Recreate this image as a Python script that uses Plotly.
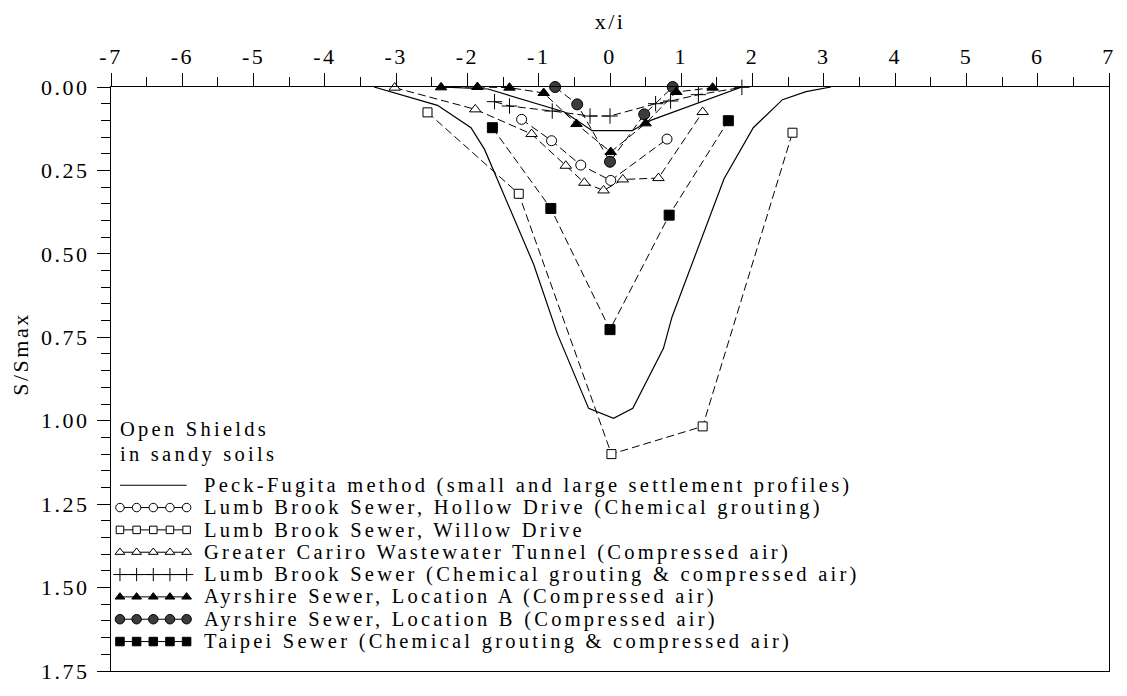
import plotly.graph_objects as go

# ---------------- data (x/i , S/Smax) ----------------
# Peck-Fujita method: small and large settlement profiles
peck_small_x = [-2.39, -1.71, -0.64, -0.25, 0.31, 0.57, 1.85]
peck_small_y = [0.0, 0.006, 0.075, 0.131, 0.131, 0.100, 0.0]

peck_large_x = [-3.31, -2.42, -1.95, -1.76, -1.07, -0.74, -0.30, 0.05, 0.32,
                0.75, 0.87, 1.60, 2.01, 2.42, 2.75, 3.10]
peck_large_y = [0.0, 0.055, 0.122, 0.187, 0.532, 0.739, 0.963, 0.993, 0.963,
                0.783, 0.689, 0.275, 0.122, 0.038, 0.014, 0.0]

# Lumb Brook Sewer, Hollow Drive (chemical grouting)
hollow_x = [-1.24, -0.82, -0.41, 0.01, 0.80]
hollow_y = [0.097, 0.161, 0.234, 0.280, 0.156]

# Lumb Brook Sewer, Willow Drive
willow_x = [-2.56, -1.28, 0.02, 1.30, 2.56]
willow_y = [0.076, 0.320, 1.100, 1.017, 0.137]

# Greater Cairo Wastewater Tunnel (compressed air)
cairo_x = [-3.02, -1.89, -1.10, -0.62, -0.36, -0.09, 0.18, 0.68, 1.30]
cairo_y = [0.002, 0.067, 0.141, 0.236, 0.287, 0.310, 0.277, 0.273, 0.075]

# Lumb Brook Sewer (chemical grouting & compressed air)
lumb_x = [-1.62, -1.41, -0.81, -0.28, 0.00, 0.64, 0.85, 1.24, 1.85]
lumb_y = [0.044, 0.057, 0.072, 0.087, 0.087, 0.050, 0.042, 0.023, 0.001]

# Ayrshire Sewer, Location A (compressed air)
ayr_a_x = [-2.37, -1.86, -1.41, -0.93, -0.47, 0.01, 0.50, 0.93, 1.44]
ayr_a_y = [0.001, 0.0, 0.002, 0.018, 0.111, 0.195, 0.109, 0.015, 0.002]

# Ayrshire Sewer, Location B (compressed air)
ayr_b_x = [-0.77, -0.46, 0.00, 0.48, 0.88]
ayr_b_y = [0.0, 0.052, 0.224, 0.082, 0.0]

# Taipei Sewer (chemical grouting & compressed air)
taipei_x = [-1.65, -0.83, 0.00, 0.83, 1.66]
taipei_y = [0.122, 0.364, 0.727, 0.384, 0.101]

x_ticks = list(range(-7, 8))
y_ticks = [0.0, 0.25, 0.5, 0.75, 1.0, 1.25, 1.5, 1.75]

legend_labels = [
    "Peck-Fugita method (small and large settlement profiles)",
    "Lumb Brook Sewer, Hollow Drive (Chemical grouting)",
    "Lumb Brook Sewer, Willow Drive",
    "Greater Cariro Wastewater Tunnel (Compressed air)",
    "Lumb Brook Sewer (Chemical grouting & compressed air)",
    "Ayrshire Sewer, Location A (Compressed air)",
    "Ayrshire Sewer, Location B (Compressed air)",
    "Taipei Sewer (Chemical grouting & compressed air)",
]
note_lines = ["Open Shields", "in sandy soils"]

# ---------------- layout constants ----------------
W, H = 1127, 696
ML, MR, MT, MB = 111, 13, 87, 18
PW, PH = W - ML - MR, H - MT - MB
FONT = dict(family="Liberation Serif", size=22, color="black")
KEY_FONT = dict(family="Liberation Serif", size=20.5, color="black")
DASH = "8px,4px"

# marker styles: (symbol, size, fill)
styles = {
    "hollow": ("circle", 10, "white"),
    "willow": ("square", 9, "white"),
    "cairo": ("triangle-up", 10, "white"),
    "lumb": ("cross-thin", 11, "black"),
    "ayr_a": ("triangle-up", 10, "black"),
    "ayr_b": ("circle", 11, "#3c3c3c"),
    "taipei": ("square", 10, "black"),
}

fig = go.Figure()

# Peck-Fujita profiles (solid)
for px, py in [(peck_small_x, peck_small_y), (peck_large_x, peck_large_y)]:
    fig.add_trace(go.Scatter(x=px, y=py, mode="lines",
                             line=dict(color="black", width=1.2),
                             showlegend=False, hoverinfo="skip"))


def add_series(x, y, key):
    sym, size, fill = styles[key]
    fig.add_trace(go.Scatter(
        x=x, y=y, mode="lines+markers",
        line=dict(color="black", width=1, dash=DASH),
        marker=dict(symbol=sym, size=size, color=fill,
                    line=dict(color="black", width=1)),
        cliponaxis=False, showlegend=False))


add_series(hollow_x, hollow_y, "hollow")
add_series(willow_x, willow_y, "willow")
add_series(cairo_x, cairo_y, "cairo")
add_series(lumb_x, lumb_y, "lumb")
add_series(ayr_b_x, ayr_b_y, "ayr_b")
add_series(ayr_a_x, ayr_a_y, "ayr_a")
add_series(taipei_x, taipei_y, "taipei")

# ---------------- in-plot legend (drawn on a pixel overlay axis) ----------------
KEY_X0, KEY_X1 = 120, 187
TEXT_X = 202
ROW0, ROW_STEP = 490, 22.6
key_xs = [KEY_X0 + i * (KEY_X1 - KEY_X0) / 4 for i in range(5)]
legend_keys = [None, "hollow", "willow", "cairo", "lumb", "ayr_a", "ayr_b", "taipei"]

annotations = []
for i, (label, key) in enumerate(zip(legend_labels, legend_keys)):
    ry = ROW0 + i * ROW_STEP
    if key is None:
        fig.add_trace(go.Scatter(x=[KEY_X0, KEY_X1], y=[ry, ry], mode="lines",
                                 line=dict(color="black", width=1.2),
                                 xaxis="x2", yaxis="y2", showlegend=False,
                                 hoverinfo="skip"))
    else:
        sym, size, fill = styles[key]
        fig.add_trace(go.Scatter(
            x=key_xs, y=[ry] * 5, mode="lines+markers",
            line=dict(color="black", width=1),
            marker=dict(symbol=sym, size=size - 1.5, color=fill,
                        line=dict(color="black", width=1)),
            xaxis="x2", yaxis="y2", showlegend=False, hoverinfo="skip",
            cliponaxis=False))
    annotations.append(dict(x=TEXT_X, y=ry, xref="x2", yref="y2", text=label,
                            showarrow=False, xanchor="left", yanchor="middle",
                            font=KEY_FONT))

for j, line in enumerate(note_lines):
    annotations.append(dict(x=118, y=434 + j * 25, xref="x2", yref="y2", text=line,
                            showarrow=False, xanchor="left", yanchor="middle",
                            font=KEY_FONT))

# vertical axis title, placed beside the tick labels
annotations.append(dict(x=(20 - ML) / PW, y=1 - (357 - MT) / PH, xref="paper", yref="paper",
                        text="S/Smax", textangle=-90, showarrow=False,
                        xanchor="center", yanchor="middle", font=FONT))

fig.update_layout(
    width=W, height=H,
    margin=dict(l=ML, r=MR, t=MT, b=MB, pad=0),
    paper_bgcolor="white", plot_bgcolor="white",
    font=FONT,
    annotations=annotations,
    xaxis=dict(
        side="top", range=[-7, 7], tickvals=x_ticks, ticktext=[str(v) for v in x_ticks],
        ticks="outside", ticklen=13, tickwidth=1, tickcolor="black",
        minor=dict(dtick=0.5, ticks="outside", ticklen=9, tickwidth=1, tickcolor="black"),
        showline=True, linecolor="black", linewidth=1.2, mirror=True,
        showgrid=False, zeroline=False, tickfont=FONT,
        title=dict(text="x/i", font=FONT, standoff=8),
    ),
    yaxis=dict(
        range=[1.75, 0], tickvals=y_ticks, tickformat=".2f",
        ticks="outside", ticklen=13, tickwidth=1, tickcolor="black",
        minor=dict(dtick=0.05, ticks="outside", ticklen=9, tickwidth=1, tickcolor="black"),
        showline=True, linecolor="black", linewidth=1.2, mirror=True,
        showgrid=False, zeroline=False, tickfont=FONT, ticklabelstandoff=3,
    ),
    xaxis2=dict(overlaying="x", range=[ML, W - MR], visible=False, fixedrange=True),
    yaxis2=dict(overlaying="y", range=[H - MB, MT], visible=False, fixedrange=True),
)

# widen glyph spacing of the chart text; left-aligned notes keep their left edge
SPACING_JS = """
var gd = document.getElementById('{plot_id}');
gd.querySelectorAll('.main-svg text').forEach(function (t) {
    t.style.letterSpacing = '2.5px';
});
gd.querySelectorAll('.annotation-text').forEach(function (t) {
    if (t.textContent === 'S/Smax') { return; }
    t.style.letterSpacing = '0px';
    var b = t.getBBox();
    t.setAttribute('text-anchor', 'start');
    t.style.textAnchor = 'start';
    t.setAttribute('x', b.x);
    t.style.letterSpacing = '3.25px';
});
"""
fig.write_html("out.html", post_script=SPACING_JS)
